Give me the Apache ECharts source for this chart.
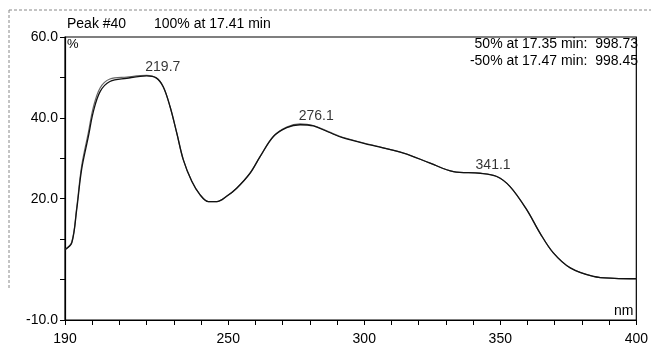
<!DOCTYPE html>
<html>
<head>
<meta charset="utf-8">
<script src="https://cdn.jsdelivr.net/npm/echarts@6/dist/echarts.min.js"></script>
<style>html,body{margin:0;padding:0;background:#fff}#c{width:651px;height:354px}</style>
</head>
<body>
<div id="c"></div>
<script>
// Wavelength (nm) and absorbance (%)
var wavelengths = [190, 192.5, 194.3, 196.1, 198.6, 200.4, 202.9, 206.5, 212.7, 220.0, 223.5, 226.1, 228.6, 231.1, 233.5, 236.6, 239.6, 242.7, 245.8, 249.4, 253.1, 258.0, 261.7, 266.6, 271.5, 276.4, 281.3, 286.8, 292.0, 302.1, 314.4, 324.2, 332.8, 342.6, 348.7, 353.6, 359.7, 364.6, 369.5, 375.7, 384.2, 392.0, 400];
var spectrumMain = [7.4, 9.1, 17.3, 27.2, 35.4, 41.5, 46.5, 49.0, 49.8, 50.4, 49.9, 47.7, 42.8, 36.2, 29.6, 24.3, 21.0, 19.3, 19.3, 20.6, 22.6, 26.3, 30.4, 35.4, 37.6, 38.3, 38.0, 36.5, 35.1, 33.3, 31.3, 28.8, 26.7, 26.3, 25.5, 23.0, 17.3, 11.5, 6.6, 2.9, 0.8, 0.3, 0.2];
var spectrumSecond = [7.4, 9.3, 17.8, 28.0, 36.4, 42.6, 47.4, 49.6, 50.1, 50.5, 49.9, 47.7, 42.8, 36.2, 29.6, 24.3, 21.0, 19.3, 19.3, 20.6, 22.6, 26.3, 30.4, 35.4, 37.7, 38.5, 38.1, 36.6, 35.2, 33.4, 31.3, 28.8, 26.7, 26.3, 25.5, 23.0, 17.3, 11.5, 6.6, 2.9, 0.8, 0.3, 0.2];
var peakNm = [219.7, 276.1, 341.1];
var peakValue = [50.4, 38.3, 26.3];
var xLabels = [190, 250, 300, 350, 400];
var yLabels = [60, 40, 20, -10];

var FONT = 'Liberation Sans';
function pairs(xs, ys) { return xs.map(function (x, i) { return [x, ys[i]]; }); }

var chart = echarts.init(document.getElementById('c'), null, {renderer: 'canvas'});
chart.setOption({
  animation: false,
  backgroundColor: '#fff',
  grid: {left: 65, right: 12, top: 37, bottom: 34, show: true, borderColor: '#000', borderWidth: 1.2, backgroundColor: 'transparent'},
  xAxis: {
    type: 'value', min: 190, max: 400, interval: 10,
    axisLine: {onZero: false, lineStyle: {color: '#000', width: 1.2}},
    axisTick: {show: true, length: 5, lineStyle: {color: '#000'}},
    splitLine: {show: false},
    axisLabel: {
      color: '#000', fontFamily: FONT, fontSize: 14, margin: 12,
      formatter: function (v) { return xLabels.indexOf(v) >= 0 ? String(v) : ''; },
      showMinLabel: true, showMaxLabel: true
    }
  },
  yAxis: {
    type: 'value', min: -10, max: 60, interval: 10,
    axisLine: {show: true, onZero: false, lineStyle: {color: '#000', width: 1.2}},
    axisTick: {show: true, length: 5, lineStyle: {color: '#000'}},
    splitLine: {show: false},
    axisLabel: {
      color: '#000', fontFamily: FONT, fontSize: 14, margin: 7,
      formatter: function (v) { return yLabels.indexOf(v) >= 0 ? v.toFixed(1) : ''; }
    }
  },
  series: [
    {type: 'line', data: pairs(wavelengths, spectrumSecond), smooth: 0.35, showSymbol: false,
     lineStyle: {color: '#666', width: 1.2}},
    {type: 'line', data: pairs(wavelengths, spectrumMain), smooth: 0.35, showSymbol: false,
     lineStyle: {color: '#111', width: 1.3}},
    {type: 'scatter', data: pairs(peakNm, peakValue), symbolSize: 1, itemStyle: {color: 'transparent'},
     label: {show: true, position: [0, 0], align: 'left', verticalAlign: 'bottom', offset: [0, -1],
       color: '#000', fontFamily: FONT, fontSize: 14,
       formatter: function (p) { return p.value[0].toFixed(1); }}}
  ],
  graphic: [
    {type: 'text', left: 67, top: 17, style: {text: 'Peak #40', font: '14px "' + FONT + '"', fill: '#000'}},
    {type: 'text', left: 154, top: 17, style: {text: '100% at 17.41 min', font: '14px "' + FONT + '"', fill: '#000'}},
    {type: 'text', left: 67, top: 38, style: {text: '%', font: '13px "' + FONT + '"', fill: '#000'}},
    {type: 'text', right: 13, top: 37, style: {text: '50% at 17.35 min:  998.73', font: '14px "' + FONT + '"', fill: '#000', align: 'right'}},
    {type: 'text', right: 13, top: 54, style: {text: '-50% at 17.47 min:  998.45', font: '14px "' + FONT + '"', fill: '#000', align: 'right'}},
    {type: 'text', left: 614, top: 304, style: {text: 'nm', font: '14px "' + FONT + '"', fill: '#000'}},
    {type: 'line', shape: {x1: 9, y1: 10, x2: 651, y2: 10}, style: {stroke: '#888', lineWidth: 1, lineDash: [3, 2]}},
    {type: 'line', shape: {x1: 9, y1: 10, x2: 9, y2: 290}, style: {stroke: '#888', lineWidth: 1, lineDash: [3, 2]}}
  ]
});
</script>
</body>
</html>
